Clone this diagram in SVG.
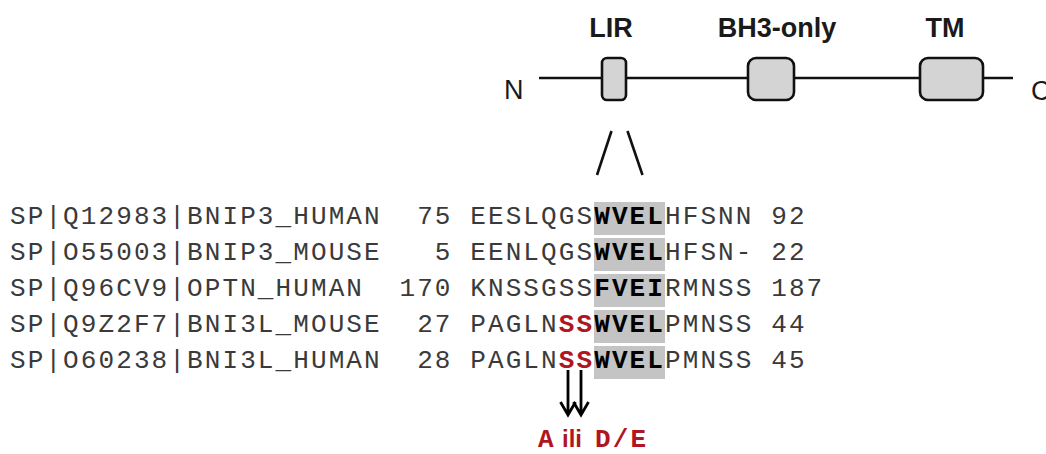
<svg xmlns="http://www.w3.org/2000/svg" width="1046" height="454" viewBox="0 0 1046 454">
<style>
.lbl{font-family:"Liberation Sans",Arial,sans-serif;font-size:27px;font-weight:bold;fill:#1a1a1a}
.term{font-family:"Liberation Sans",Arial,sans-serif;font-size:27px;fill:#1a1a1a}
.dom{fill:#d4d4d4;stroke:#111;stroke-width:2.6}
.ln{stroke:#111;stroke-width:2.6;fill:none}
.seq{font-family:"Liberation Mono","Courier New",monospace;font-size:26px;letter-spacing:2.1px;fill:#3a3a3a;white-space:pre}
.b{font-weight:bold;fill:#000}
.r{font-weight:bold;fill:#b01522}
.hl{fill:#c4c4c4}
.arr{stroke:#000;stroke-width:2.8;fill:none}
.mut{font-weight:bold;fill:#b01522}
</style>
<rect width="1046" height="454" fill="#fff"/>
<g id="connectors">
<line class="ln" x1="539" y1="78" x2="1013" y2="78"/>
<line class="ln" x1="611.5" y1="131" x2="597" y2="175"/>
<line class="ln" x1="627.5" y1="131" x2="642.5" y2="175"/>
<path class="arr" d="M568 370V414M560.5 402L568 415L575.5 402"/>
<path class="arr" d="M581 370V414M573.5 402L581 415L588.5 402"/>
</g>
<g id="terminus-N"><text class="term" x="504" y="99">N</text></g>
<g id="terminus-C"><text class="term" x="1031" y="100">C</text></g>
<g id="LIR"><rect class="dom" x="602" y="58" width="24" height="42" rx="5"/><text class="lbl" x="611" y="37" text-anchor="middle">LIR</text></g>
<g id="BH3-only"><rect class="dom" x="748" y="58" width="46" height="42" rx="8"/><text class="lbl" x="777" y="37" text-anchor="middle">BH3-only</text></g>
<g id="TM"><rect class="dom" x="920" y="58" width="63" height="42" rx="8"/><text class="lbl" x="945" y="37" text-anchor="middle">TM</text></g>
<g id="highlight">
<rect class="hl" x="594" y="202" width="71" height="33"/>
<rect class="hl" x="594" y="238" width="71" height="33"/>
<rect class="hl" x="594" y="274" width="71" height="33"/>
<rect class="hl" x="594" y="310" width="71" height="33"/>
<rect class="hl" x="594" y="346" width="71" height="33"/>
</g>
<g id="alignment">
<text class="seq" x="10" y="224" xml:space="preserve">SP|Q12983|BNIP3_HUMAN  75 EESLQGS<tspan class="b">WVEL</tspan>HFSNN 92</text>
<text class="seq" x="10" y="260" xml:space="preserve">SP|O55003|BNIP3_MOUSE   5 EENLQGS<tspan class="b">WVEL</tspan>HFSN- 22</text>
<text class="seq" x="10" y="296" xml:space="preserve">SP|Q96CV9|OPTN_HUMAN  170 KNSSGSS<tspan class="b">FVEI</tspan>RMNSS 187</text>
<text class="seq" x="10" y="332" xml:space="preserve">SP|Q9Z2F7|BNI3L_MOUSE  27 PAGLN<tspan class="r">SS</tspan><tspan class="b">WVEL</tspan>PMNSS 44</text>
<text class="seq" x="10" y="368" xml:space="preserve">SP|O60238|BNI3L_HUMAN  28 PAGLN<tspan class="r">SS</tspan><tspan class="b">WVEL</tspan>PMNSS 45</text>
</g>
<g id="mutation-label">
<text class="seq mut" x="538" y="447">A</text>
<text x="562" y="447" style="font-family:'Liberation Sans',Arial,sans-serif;font-size:24px;font-weight:bold;fill:#b01522">ili</text>
<text class="seq mut" x="595" y="447">D/E</text>
</g>
</svg>
